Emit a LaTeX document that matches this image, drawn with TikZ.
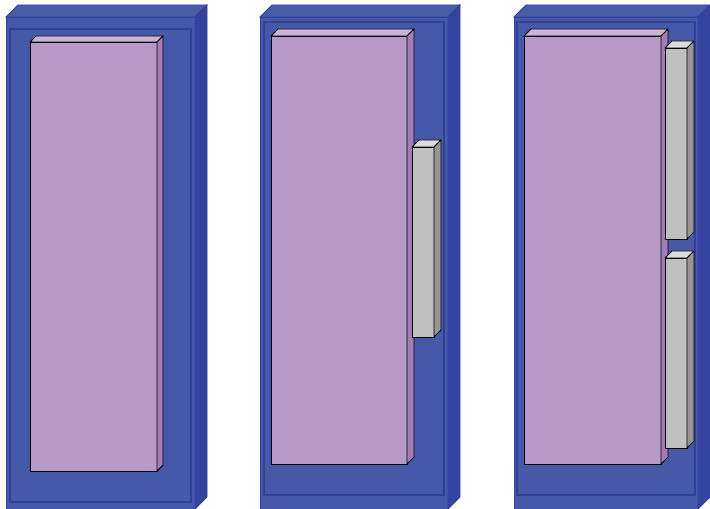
\documentclass[tikz,border=0pt]{standalone}
\usepackage{tikz}
\definecolor{caseface}{RGB}{70,89,168}
\definecolor{casetop}{RGB}{72,92,172}
\definecolor{caseside}{RGB}{52,68,158}
\definecolor{caseedge}{RGB}{50,64,155}
\definecolor{cardface}{RGB}{183,153,200}
\definecolor{cardtop}{RGB}{204,180,216}
\definecolor{cardside}{RGB}{164,124,186}
\definecolor{railface}{RGB}{192,192,192}
\definecolor{railtop}{RGB}{220,220,220}
\definecolor{railside}{RGB}{150,150,150}
\tikzstyle{casing} = [draw=caseedge, line width=0.6pt]
\tikzstyle{panel} = [draw=caseedge, line width=0.8pt]
\tikzstyle{blockline} = [draw=black, line width=0.7pt, line join=round]

% #1 x, #2 y, #3 width, #4 height, #5 depth, #6 front, #7 top, #8 side, #9 line style
\newcommand{\slab}[9]{%
  \begin{scope}[shift={(#1,#2)}]
    \filldraw[#9, fill=#6] (0,0) rectangle (#3,#4);
    \filldraw[#9, fill=#7] (0,0) -- (#5,-#5) -- (#3+#5,-#5) -- (#3,0) -- cycle;
    \filldraw[#9, fill=#8] (#3,0) -- (#3+#5,-#5) -- (#3+#5,#4-#5) -- (#3,#4) -- cycle;
  \end{scope}}

\begin{document}
\begin{tikzpicture}[x=0.75pt, y=-0.75pt]
  \useasboundingbox (0,0) rectangle (710,509);

  % left enclosure
  \slab{6}{17}{189}{492}{12}{caseface}{casetop}{caseside}{casing}
  \draw[panel] (10,29) rectangle (191,502);
  \slab{30}{42}{127}{429}{6}{cardface}{cardtop}{cardside}{blockline}

  % middle enclosure
  \slab{260}{17}{188}{492}{12}{caseface}{casetop}{caseside}{casing}
  \draw[panel] (264,22) rectangle (444,495);
  \slab{271}{36}{136}{428}{7}{cardface}{cardtop}{cardside}{blockline}
  \slab{412}{147}{22}{190}{7}{railface}{railtop}{railside}{blockline}

  % right enclosure
  \slab{514}{17}{184}{492}{12}{caseface}{casetop}{caseside}{casing}
  \draw[panel] (517,22) rectangle (695,495);
  \slab{524}{36}{137}{428}{7}{cardface}{cardtop}{cardside}{blockline}
  \slab{665}{48}{22}{191}{7}{railface}{railtop}{railside}{blockline}
  \slab{665}{258}{22}{190}{7}{railface}{railtop}{railside}{blockline}
\end{tikzpicture}
\end{document}
